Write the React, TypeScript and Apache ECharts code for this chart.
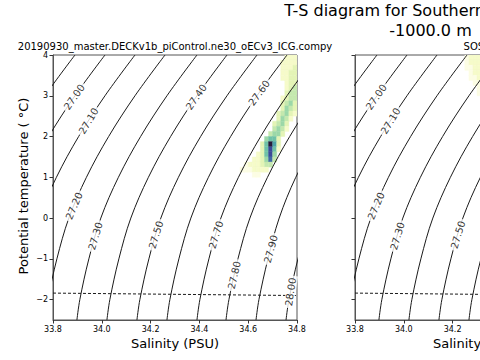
import React, { useEffect, useRef } from 'react';
import * as echarts from 'echarts';

// ---- data ----
const xTicks = [33.8, 34.0, 34.2, 34.4, 34.6, 34.8];
const xTicksRightVisible = [33.8, 34.0, 34.2];
const yTicks = [-2, -1, 0, 1, 2, 3, 4];

// temperatures at which each density contour is sampled
const contourTemps = [-2.5, -2, -1, 0, 1, 2, 3, 4];
// salinity of each sigma0 contour at contourTemps
const sal2690 = [33.398, 33.41, 33.447, 33.496, 33.568, 33.659, 33.767, 33.89];
const sal2700 = [33.521, 33.533, 33.57, 33.619, 33.691, 33.782, 33.89, 34.013];
const sal2710 = [33.644, 33.656, 33.693, 33.742, 33.814, 33.905, 34.013, 34.136];
const sal2720 = [33.767, 33.779, 33.816, 33.865, 33.937, 34.028, 34.136, 34.259];
const sal2730 = [33.898, 33.91, 33.947, 33.996, 34.068, 34.159, 34.267, 34.39];
const sal2740 = [34.021, 34.033, 34.07, 34.119, 34.191, 34.282, 34.39, 34.513];
const sal2750 = [34.144, 34.156, 34.193, 34.242, 34.314, 34.405, 34.513, 34.636];
const sal2760 = [34.267, 34.279, 34.316, 34.365, 34.437, 34.528, 34.636, 34.759];
const sal2770 = [34.39, 34.402, 34.439, 34.488, 34.56, 34.651, 34.759, 34.882];
const sal2780 = [34.509, 34.521, 34.558, 34.607, 34.679, 34.77, 34.878, 35.001];
const sal2790 = [34.632, 34.644, 34.681, 34.727, 34.795, 34.886, 34.994, 35.117];
const sal2800 = [34.755, 34.767, 34.804, 34.853, 34.925, 35.016, 35.124, 35.247];
const contourSalinities = [sal2690, sal2700, sal2710, sal2720, sal2730, sal2740, sal2750, sal2760, sal2770, sal2780, sal2790, sal2800];

// inline contour labels: text, salinity, temperature
const labelTexts = ['27.00', '27.10', '27.20', '27.30', '27.40', '27.50', '27.60', '27.70', '27.80', '27.90', '28.00'];
const labelSal = [33.887, 33.946, 33.887, 33.974, 34.387, 34.222, 34.645, 34.468, 34.543, 34.693, 34.774];
const labelTemp = [2.97, 2.38, 0.3, -0.44, 2.97, -0.41, 3.07, -0.41, -1.4, -0.76, -1.81];
const labelAngle = [55, 59, 67, 73, 55, 73, 54, 73, 77, 75, 81];

// freezing-point line
const freezeSal = [33.8, 34.8];
const freezeTemp = [-1.84, -1.9];

// 2D histogram cells (salinity centre, temperature centre, colour level 0..9)
const modelCells: number[][] = [
  [34.7583, 3.9375, 1], [34.775, 3.9375, 1], [34.7917, 3.9375, 1],
  [34.7417, 3.8125, 1], [34.7583, 3.8125, 1], [34.775, 3.8125, 1], [34.7917, 3.8125, 1],
  [34.7417, 3.6875, 1], [34.7583, 3.6875, 1], [34.775, 3.6875, 1], [34.7917, 3.6875, 2],
  [34.7417, 3.5625, 1], [34.7583, 3.5625, 1], [34.775, 3.5625, 2], [34.7917, 3.5625, 2],
  [34.7417, 3.4375, 1], [34.7583, 3.4375, 1], [34.775, 3.4375, 2], [34.7917, 3.4375, 2],
  [34.7583, 3.3125, 1], [34.775, 3.3125, 2], [34.7917, 3.3125, 2],
  [34.7583, 3.1875, 1], [34.775, 3.1875, 2], [34.7917, 3.1875, 3],
  [34.7583, 3.0625, 2], [34.775, 3.0625, 3], [34.7917, 3.0625, 3],
  [34.7417, 2.9375, 1], [34.7583, 2.9375, 2], [34.775, 2.9375, 3], [34.7917, 2.9375, 3],
  [34.7417, 2.8125, 2], [34.7583, 2.8125, 3], [34.775, 2.8125, 4], [34.7917, 2.8125, 2],
  [34.7417, 2.6875, 2], [34.7583, 2.6875, 4], [34.775, 2.6875, 3], [34.7917, 2.6875, 2],
  [34.725, 2.5625, 2], [34.7417, 2.5625, 3], [34.7583, 2.5625, 4], [34.775, 2.5625, 2], [34.7917, 2.5625, 1],
  [34.725, 2.4375, 2], [34.7417, 2.4375, 4], [34.7583, 2.4375, 3], [34.775, 2.4375, 1],
  [34.7083, 2.3125, 2], [34.725, 2.3125, 3], [34.7417, 2.3125, 4], [34.7583, 2.3125, 2],
  [34.7083, 2.1875, 3], [34.725, 2.1875, 4], [34.7417, 2.1875, 3], [34.7583, 2.1875, 1],
  [34.6917, 2.0625, 3], [34.7083, 2.0625, 4], [34.725, 2.0625, 4], [34.7417, 2.0625, 2],
  [34.675, 1.9375, 4], [34.6917, 1.9375, 5], [34.7083, 1.9375, 5], [34.725, 1.9375, 2],
  [34.6583, 1.8125, 2], [34.675, 1.8125, 5], [34.6917, 1.8125, 9], [34.7083, 1.8125, 6], [34.725, 1.8125, 2],
  [34.6583, 1.6875, 2], [34.675, 1.6875, 5], [34.6917, 1.6875, 8], [34.7083, 1.6875, 5], [34.725, 1.6875, 1],
  [34.6417, 1.5625, 1], [34.6583, 1.5625, 2], [34.675, 1.5625, 5], [34.6917, 1.5625, 8], [34.7083, 1.5625, 4],
  [34.625, 1.4375, 1], [34.6417, 1.4375, 1], [34.6583, 1.4375, 2], [34.675, 1.4375, 4], [34.6917, 1.4375, 7], [34.7083, 1.4375, 3],
  [34.5917, 1.3125, 0], [34.6083, 1.3125, 1], [34.625, 1.3125, 1], [34.6417, 1.3125, 1], [34.6583, 1.3125, 2], [34.675, 1.3125, 3], [34.6917, 1.3125, 3],
  [34.575, 1.1875, 0], [34.5917, 1.1875, 0], [34.6083, 1.1875, 0], [34.625, 1.1875, 1], [34.6417, 1.1875, 1], [34.6583, 1.1875, 1], [34.675, 1.1875, 1],
  [34.625, 1.0625, 0], [34.6417, 1.0625, 0],
];
const obsCells: number[][] = [
  [34.2583, 3.9375, 0], [34.275, 3.9375, 1], [34.2917, 3.9375, 1], [34.3083, 3.9375, 1], [34.325, 3.9375, 1],
  [34.2583, 3.8125, 0], [34.275, 3.8125, 1], [34.2917, 3.8125, 1], [34.3083, 3.8125, 1], [34.325, 3.8125, 1],
  [34.2583, 3.6875, 0], [34.275, 3.6875, 0], [34.2917, 3.6875, 1], [34.3083, 3.6875, 1], [34.325, 3.6875, 1],
  [34.275, 3.5625, 0], [34.2917, 3.5625, 1], [34.3083, 3.5625, 1], [34.325, 3.5625, 1],
  [34.275, 3.4375, 0], [34.2917, 3.4375, 0], [34.3083, 3.4375, 1], [34.325, 3.4375, 1],
  [34.2917, 3.3125, 0], [34.3083, 3.3125, 0], [34.325, 3.3125, 1],
  [34.3083, 3.1875, 0], [34.325, 3.1875, 0],
  [34.3083, 3.0625, 0], [34.325, 3.0625, 0],
];

// ---- styling ----
const DS = 1 / 60;
const DT = 0.125;
const PALETTE = ['#fcfde4', '#f6fbc9', '#e4f4b6', '#c4e8ae', '#9cd8a8', '#6fc2a7', '#4ea5a8', '#3f6aa5', '#3b4a98', '#281c3a'];
const FONT = 'DejaVu Sans';
const LINE = '#1a1a1a';
const FRAME = '#555';

function heatSeries(cells: number[][], g: number) {
  return {
    type: 'custom',
    xAxisIndex: g,
    yAxisIndex: g,
    clip: true,
    silent: true,
    encode: { x: 0, y: 1 },
    data: cells,
    renderItem: (_p: any, api: any) => {
      const s = api.value(0);
      const t = api.value(1);
      const lv = api.value(2);
      const a = api.coord([s - DS / 2, t + DT / 2]);
      const b = api.coord([s + DS / 2, t - DT / 2]);
      return {
        type: 'rect',
        shape: { x: a[0], y: a[1], width: b[0] - a[0], height: b[1] - a[1] },
        style: { fill: PALETTE[lv], stroke: PALETTE[lv], lineWidth: 0.4 },
      };
    },
  };
}

function panelSeries(g: number, cells: number[][], maxLabelSal: number) {
  const out: any[] = [heatSeries(cells, g)];
  contourSalinities.forEach((sal) => {
    out.push({
      type: 'line',
      xAxisIndex: g,
      yAxisIndex: g,
      data: contourTemps.map((t, k) => [sal[k], t]),
      smooth: 0.35,
      symbol: 'none',
      clip: true,
      silent: true,
      lineStyle: { color: LINE, width: 1 },
      z: 3,
    });
  });
  out.push({
    type: 'line',
    xAxisIndex: g,
    yAxisIndex: g,
    data: freezeSal.map((s, k) => [s, freezeTemp[k]]),
    symbol: 'none',
    clip: true,
    silent: true,
    lineStyle: { color: LINE, width: 1, type: [3, 2] },
    z: 3,
  });
  const labels: any[] = [];
  labelTexts.forEach((txt, k) => {
    if (labelSal[k] > maxLabelSal) return;
    labels.push({
      value: [labelSal[k], labelTemp[k]],
      name: txt,
      label: { rotate: labelAngle[k] },
    });
  });
  out.push({
    type: 'scatter',
    xAxisIndex: g,
    yAxisIndex: g,
    symbolSize: 0,
    silent: true,
    z: 4,
    data: labels,
    label: {
      show: true,
      position: 'inside',
      formatter: (p: any) => p.name,
      color: '#000',
      fontSize: 10,
      fontFamily: FONT,
      backgroundColor: '#fff',
      padding: [0, 2],
    },
  });
  return out;
}

function xAxis(g: number, labelValues: number[]) {
  return {
    type: 'value',
    gridIndex: g,
    min: 33.8,
    max: 34.8,
    axisLine: { show: true, onZero: false, lineStyle: { color: FRAME, width: 1 } },
    axisTick: { show: true, length: 3.5, customValues: xTicks, lineStyle: { color: '#333' } },
    axisLabel: {
      show: true,
      customValues: labelValues,
      formatter: (v: number) => v.toFixed(1),
      fontSize: 8,
      fontFamily: FONT,
      color: '#000',
      margin: 5,
    },
    splitLine: { show: false },
  };
}

function yAxis(g: number, showLabels: boolean) {
  return {
    type: 'value',
    gridIndex: g,
    min: -2.5,
    max: 4,
    axisLine: { show: true, onZero: false, lineStyle: { color: FRAME, width: 1 } },
    axisTick: { show: true, length: 3.5, customValues: yTicks, lineStyle: { color: '#333' } },
    axisLabel: {
      show: showLabels,
      customValues: yTicks,
      formatter: (v: number) => (v < 0 ? '\u2212' + String(-v) : String(v)),
      fontSize: 8,
      fontFamily: FONT,
      color: '#000',
      margin: 5,
    },
    splitLine: { show: false },
  };
}

function txt(text: string, x: number, y: number, size: number, extra: any = {}) {
  return {
    type: 'text',
    x,
    y,
    silent: true,
    ...extra,
    style: {
      text,
      fontSize: size,
      fontFamily: FONT,
      fill: '#000',
      textAlign: 'center',
      textVerticalAlign: 'middle',
    },
  };
}

export default function App() {
  const ref = useRef<HTMLDivElement>(null);
  useEffect(() => {
    document.body.style.margin = '0';
    const chart = echarts.init(ref.current!, undefined, { renderer: 'svg' });
    chart.setOption({
      animation: false,
      backgroundColor: '#fff',
      grid: [
        { left: 53, top: 55, width: 244, height: 265, show: true, borderColor: FRAME, borderWidth: 1, containLabel: false, outerBoundsMode: 'none' },
        { left: 355, top: 55, width: 244, height: 265, show: true, borderColor: FRAME, borderWidth: 1, containLabel: false, outerBoundsMode: 'none' },
      ],
      xAxis: [xAxis(0, xTicks), xAxis(1, xTicksRightVisible)],
      yAxis: [yAxis(0, true), yAxis(1, false)],
      series: [...panelSeries(0, modelCells, 99), ...panelSeries(1, obsCells, 34.27)],
      graphic: [
        txt('T-S diagram for Southern Ocean 60S', 430.5, 10.5, 16),
        txt('-1000.0 m', 430.5, 30.5, 16),
        txt('20190930_master.DECKv1b_piControl.ne30_oECv3_ICG.compy', 175, 46, 10),
        txt('SOSE', 477, 46, 10),
        txt('Salinity (PSU)', 175, 343, 13),
        txt('Salinity (PSU)', 477, 343, 13),
        txt('Potential temperature ( \u00b0C)', 23, 186, 13, { rotation: Math.PI / 2 }),
      ],
    });
    return () => chart.dispose();
  }, []);
  return <div ref={ref} style={{ position: 'fixed', left: 0, top: 0, width: 480, height: 360 }} />;
}
